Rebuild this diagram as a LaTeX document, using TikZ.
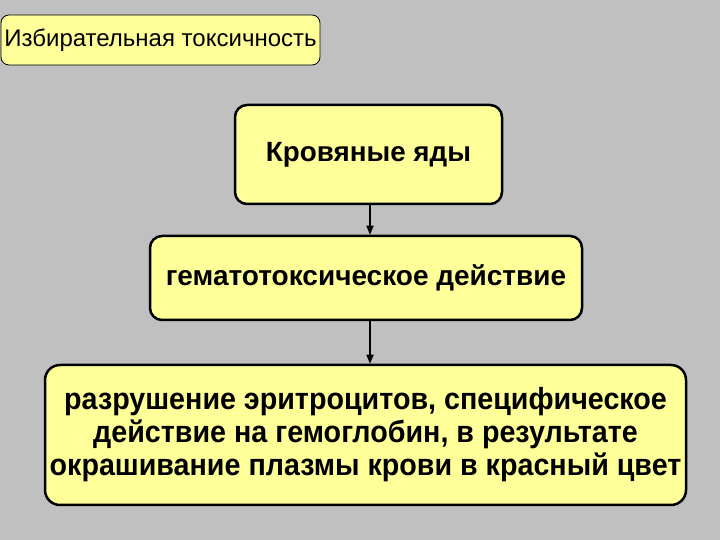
\documentclass[tikz,border=0pt]{standalone}
\usepackage{fontspec}
\setmainfont{Liberation Sans}
\newfontfamily\narrowfont[FakeStretch=0.94]{Liberation Sans}
\usetikzlibrary{positioning,arrows.meta,calc}
\definecolor{slidegray}{HTML}{C0C0C0}
\definecolor{boxyellow}{HTML}{FFFF99}

\begin{document}
\begin{tikzpicture}[x=1pt,y=1pt,
  box/.style={draw,fill=boxyellow,rounded corners=12pt,align=center,line width=2.5pt,inner sep=2pt},
  title/.style={box,line width=0.8pt,rounded corners=8pt,font=\fontsize{24}{28}\selectfont},
  dep/.style={-{Triangle[length=9pt,width=7pt]},line width=1.6pt}]
\fill[slidegray] (0,0) rectangle (720,540);
\useasboundingbox (0,0) rectangle (720,540);
\node[title,minimum width=319pt,minimum height=50pt] (sel) at (160.5,500) {Избирательная токсичность};
\node[box,minimum width=267pt,minimum height=99pt,font=\bfseries\fontsize{27.8}{32}\selectfont] (blood) at (368.5,385.5) {Кровяные яды};
\node[box,minimum width=432pt,minimum height=84pt,font=\bfseries\fontsize{28}{32}\selectfont] (hemato) at (366,262) {гематотоксическое действие};
\node[box,minimum width=641pt,minimum height=140pt,rounded corners=15pt,font=\narrowfont\bfseries\fontsize{30.5}{33}\selectfont] (effect) at (365.5,105)
  {разрушение эритроцитов, специфическое\\ действие на гемоглобин, в результате\\ окрашивание плазмы крови в красный цвет};
\coordinate (link) at ($(blood.south)+(1.5,0)$);
\draw[dep] (link) -- (link |- hemato.north);
\draw[dep] (link |- hemato.south) -- (link |- effect.north);
\end{tikzpicture}
\end{document}
